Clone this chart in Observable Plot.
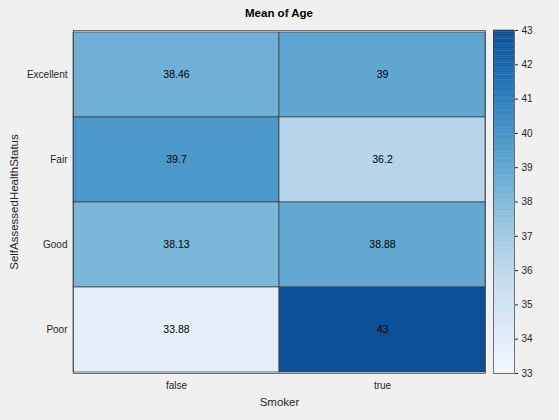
<!DOCTYPE html>
<html>
<head>
<meta charset="utf-8">
<script src="https://cdn.jsdelivr.net/npm/d3@7"></script>
<script src="https://cdn.jsdelivr.net/npm/@observablehq/plot@0.6"></script>
<style>
  body { margin: 0; background: #f0f0f0; font-family: "Liberation Sans", Arial, sans-serif; }
  #wrap { position: relative; width: 559px; height: 420px; }
  #title { position: absolute; top: 7px; left: 73px; width: 412px; text-align: center; font-weight: bold; font-size: 11.5px; }
  #main, #bar { position: absolute; top: 0; }
  #main { left: 0; }
  #bar { left: 493px; top: 20px; }
</style>
</head>
<body>
<div id="wrap">
  <div id="main"></div>
  <div id="bar"></div>
  <div id="title">Mean of Age</div>
</div>
<script>
// categories and values
const smoker = ["false", "true"];
const health = ["Excellent", "Fair", "Good", "Poor"];
const meanFalse = [38.46, 39.7, 38.13, 33.88];
const meanTrue = [39, 36.2, 38.88, 43];
const colorTicks = [33, 34, 35, 36, 37, 38, 39, 40, 41, 42, 43];

const cells = [];
health.forEach((h, i) => {
  cells.push({smoker: "false", health: h, value: meanFalse[i]});
  cells.push({smoker: "true", health: h, value: meanTrue[i]});
});

const colorOpts = {
  type: "linear",
  domain: [33, 43],
  interpolate: t => d3.interpolateBlues(0.02 + t * 0.86)
};

const mainPlot = Plot.plot({
  width: 559,
  height: 420,
  marginTop: 30,
  marginBottom: 47,
  marginLeft: 73,
  marginRight: 74,
  style: {background: "transparent", fontFamily: "Liberation Sans, Arial, sans-serif", fontSize: "10px", color: "#262626"},
  x: {domain: smoker, padding: 0, label: "Smoker", labelAnchor: "center", labelOffset: 32, tickSize: 0, tickPadding: 8},
  y: {domain: health, padding: 0, label: "SelfAssessedHealthStatus", labelAnchor: "center", labelOffset: 64, tickSize: 0, tickPadding: 6},
  color: colorOpts,
  marks: [
    Plot.cell(cells, {x: "smoker", y: "health", fill: "value", stroke: "#3a3a3a", strokeWidth: 0.7}),
    Plot.text(cells, {x: "smoker", y: "health", text: d => String(d.value), fill: "black", fontSize: 10.5}),
    Plot.frame({stroke: "#3a3a3a", strokeWidth: 0.7})
  ]
});
// bump axis label size
mainPlot.querySelectorAll("[aria-label$='axis label'] text").forEach(t => t.setAttribute("font-size", "11.5"));
document.querySelector("#main").append(mainPlot);

// colorbar
const steps = d3.range(33, 43, 0.05);
const barPlot = Plot.plot({
  width: 60,
  height: 363,
  marginTop: 10,
  marginBottom: 10,
  marginLeft: 0,
  marginRight: 39,
  style: {background: "transparent", fontFamily: "Liberation Sans, Arial, sans-serif", fontSize: "10px", color: "#262626"},
  x: {domain: [0, 1], axis: null},
  y: {domain: [33, 43], axis: "right", ticks: colorTicks, tickSize: 3, tickPadding: 4, label: null},
  color: colorOpts,
  marks: [
    Plot.rect(steps, {x1: 0, x2: 1, y1: d => d, y2: d => d + 0.06, fill: d => d}),
    Plot.frame({stroke: "#3a3a3a", strokeWidth: 0.7})
  ]
});
document.querySelector("#bar").append(barPlot);
</script>
</body>
</html>
